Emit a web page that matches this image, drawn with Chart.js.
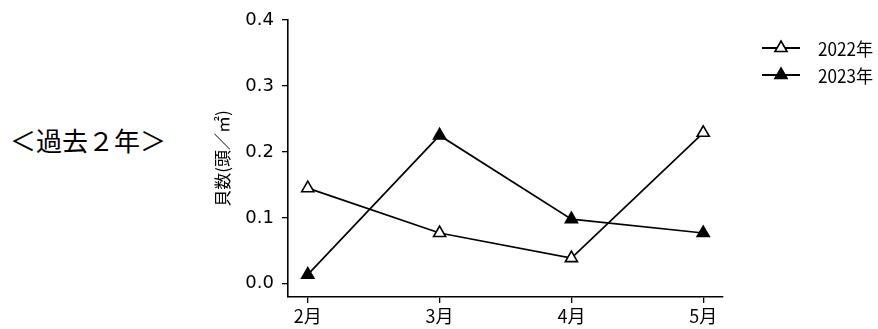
<!DOCTYPE html>
<html><head><meta charset="utf-8">
<script src="https://cdn.jsdelivr.net/npm/chart.js@4"></script>
<style>
html,body{margin:0;padding:0;background:#fff;}
#wrap{position:relative;width:878px;height:329px;}
#title{position:absolute;left:10px;top:121px;font:26px "Noto Sans CJK JP";color:#000;white-space:nowrap;}
canvas{position:absolute;left:0;top:0;}
</style></head><body>
<div id="wrap"><div id="title">＜過去２年＞</div><canvas id="c" width="878" height="329"></canvas></div>
<script>
const categories = ['2月','3月','4月','5月'];
const series2022 = [0.145, 0.077, 0.039, 0.229];
const series2023 = [0.014, 0.225, 0.098, 0.077];
const yTicks = [0.0, 0.1, 0.2, 0.3, 0.4];
const seriesNames = ['2022年','2023年'];
const yTitle = '貝数(頭／㎡)';

const toPts = arr => arr.map((v,i)=>({x:i,y:v}));
const legendPlugin = {
  id:'legendCustom',
  afterDraw(chart){
    const ctx = chart.ctx;
    chart.data.datasets.forEach((ds,i)=>{
      const y = 48 + i*27;
      ctx.save();
      ctx.strokeStyle='#000'; ctx.lineWidth=1.8;
      ctx.beginPath(); ctx.moveTo(762,y); ctx.lineTo(800,y); ctx.stroke();
      ctx.fillStyle = ds.pointBackgroundColor;
      ctx.lineWidth=1.6;
      ctx.beginPath();
      const r=7;
      ctx.moveTo(781, y - r);
      ctx.lineTo(781 + r*Math.sin(Math.PI/3), y + r*0.5);
      ctx.lineTo(781 - r*Math.sin(Math.PI/3), y + r*0.5);
      ctx.closePath(); ctx.fill(); ctx.stroke();
      ctx.fillStyle='#000';
      ctx.textBaseline='middle';
      ctx.translate(818,y);
      ctx.scale(0.95,1);
      ctx.font='18px "Liberation Sans Narrow","Noto Sans CJK JP"';
      ctx.fillText(ds.label,0,1);
      ctx.restore();
    });
  }
};

new Chart(document.getElementById('c'),{
  type:'line',
  data:{datasets:[
    {label:seriesNames[0],data:toPts(series2022),borderColor:'#000',borderWidth:1.7,pointStyle:'triangle',pointRadius:7,pointBorderWidth:1.6,pointBackgroundColor:'#fff',pointBorderColor:'#000',tension:0},
    {label:seriesNames[1],data:toPts(series2023),borderColor:'#000',borderWidth:1.7,pointStyle:'triangle',pointRadius:7,pointBorderWidth:1.6,pointBackgroundColor:'#000',pointBorderColor:'#000',tension:0}
  ]},
  options:{
    responsive:false,animation:false,
    layout:{padding:{left:205,right:155,top:20,bottom:0}},
    plugins:{legend:{display:false},tooltip:{enabled:false}},
    scales:{
      x:{type:'linear',min:-0.15,max:3.15,
        afterBuildTicks(s){s.ticks=categories.map((c,i)=>({value:i}));},
        afterFit(s){s.height=32;},
        ticks:{autoSkip:false,color:'#000',padding:2,font:{family:'"Liberation Sans Narrow","Noto Sans CJK JP"',size:18},callback:(v)=>categories[v]},
        grid:{drawOnChartArea:false,drawTicks:true,tickLength:6,color:'#000',lineWidth:1.3},
        border:{color:'#000',width:1.6}
      },
      y:{min:-0.02,max:0.4,
        afterBuildTicks(s){s.ticks=yTicks.map(v=>({value:v}));},
        afterFit(s){s.width=83;},
        ticks:{color:'#000',padding:8,font:{family:'"DejaVu Sans"',size:18},callback:(v)=>v.toFixed(1)},
        grid:{drawOnChartArea:false,drawTicks:true,tickLength:6,color:'#000',lineWidth:1.3},
        border:{color:'#000',width:1.6},
        title:{display:true,text:yTitle,color:'#000',padding:{top:7,bottom:0},font:{family:'"Noto Sans CJK JP"',size:17}}
      }
    }
  },
  plugins:[legendPlugin]
});
</script></body></html>
